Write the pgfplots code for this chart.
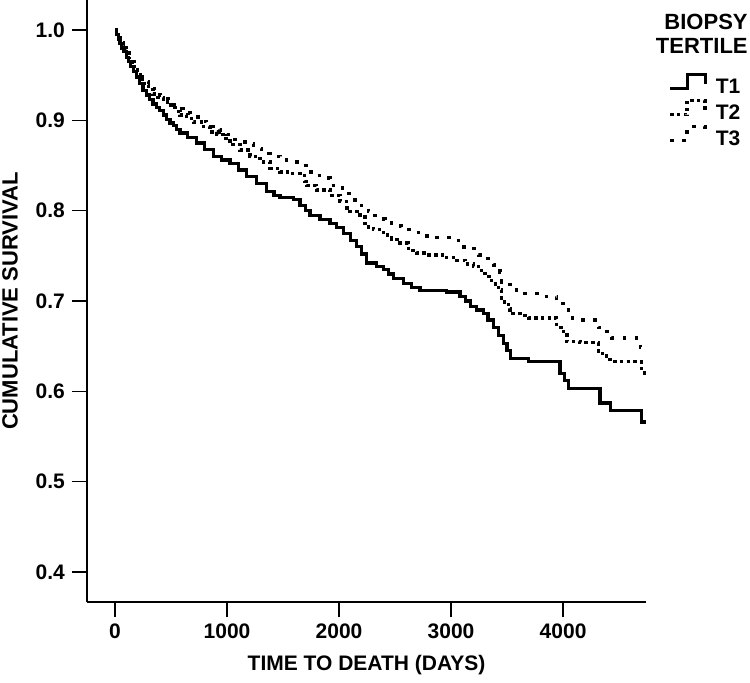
\documentclass[border=0pt]{standalone}
\usepackage{pgfplots}
\usepackage{pgfplotstable}
\pgfplotsset{compat=1.18}
\usepackage{fontspec}
\setmainfont{Liberation Sans}

% T1: time (days), cumulative survival
\pgfplotstableread{
d S
0 1.000
15 0.995
30 0.990
45 0.985
60 0.980
75 0.976
100 0.970
120 0.965
140 0.960
164 0.954
190 0.948
220 0.941
250 0.933
283 0.928
310 0.923
340 0.918
372 0.914
400 0.911
430 0.906
460 0.901
491 0.897
520 0.894
550 0.890
580 0.886
650 0.881
729 0.875
800 0.868
878 0.860
950 0.856
1027 0.852
1100 0.845
1176 0.838
1260 0.830
1354 0.821
1420 0.817
1473 0.815
1592 0.812
1652 0.806
1700 0.800
1741 0.795
1830 0.790
1920 0.786
1980 0.781
2039 0.775
2100 0.767
2158 0.760
2200 0.752
2247 0.742
2336 0.738
2396 0.735
2440 0.730
2485 0.725
2574 0.719
2650 0.715
2723 0.712
2961 0.710
3080 0.705
3130 0.700
3170 0.694
3230 0.690
3289 0.686
3330 0.679
3378 0.671
3420 0.662
3467 0.653
3500 0.645
3527 0.636
3690 0.633
3973 0.620
4010 0.612
4048 0.603
4330 0.587
4420 0.579
4702 0.566
4741 0.566
}\tone

% T2
\pgfplotstableread{
d S
0 1.000
15 0.995
30 0.991
50 0.986
75 0.980
100 0.973
125 0.968
150 0.962
175 0.956
200 0.951
230 0.945
260 0.939
300 0.934
340 0.929
380 0.925
432 0.921
466 0.917
500 0.914
540 0.910
580 0.906
640 0.902
699 0.898
770 0.893
848 0.887
910 0.884
967 0.880
1027 0.873
1116 0.867
1205 0.860
1295 0.854
1384 0.847
1473 0.843
1563 0.841
1652 0.839
1690 0.832
1711 0.828
1800 0.823
1920 0.817
2009 0.810
2068 0.803
2098 0.799
2188 0.793
2232 0.782
2307 0.779
2396 0.773
2470 0.768
2545 0.764
2619 0.756
2693 0.753
2783 0.751
2961 0.748
3051 0.745
3125 0.741
3199 0.738
3244 0.734
3304 0.727
3363 0.719
3423 0.712
3452 0.699
3512 0.692
3527 0.686
3616 0.684
3690 0.681
3943 0.671
4003 0.666
4033 0.655
4152 0.654
4315 0.642
4390 0.639
4420 0.633
4700 0.625
4725 0.620
4741 0.620
}\ttwo

% T3
\pgfplotstableread{
d S
0 1.000
15 0.995
30 0.991
50 0.987
75 0.981
100 0.975
125 0.970
150 0.965
175 0.959
200 0.954
230 0.948
260 0.943
300 0.938
350 0.933
402 0.928
440 0.924
480 0.920
515 0.917
551 0.913
610 0.908
670 0.904
740 0.899
818 0.893
880 0.890
938 0.887
1000 0.884
1071 0.879
1160 0.874
1235 0.869
1310 0.863
1384 0.860
1473 0.856
1563 0.854
1652 0.850
1711 0.843
1786 0.839
1860 0.836
1920 0.828
2009 0.825
2068 0.819
2143 0.812
2200 0.806
2262 0.799
2321 0.791
2411 0.790
2470 0.783
2560 0.779
2649 0.776
2738 0.772
2827 0.770
3036 0.767
3095 0.760
3184 0.758
3244 0.751
3304 0.747
3378 0.740
3438 0.732
3452 0.721
3527 0.716
3586 0.708
3795 0.705
3943 0.697
4003 0.690
4048 0.681
4137 0.679
4315 0.671
4375 0.666
4434 0.659
4690 0.649
4705 0.649
}\tthree

\begin{document}
\begin{tikzpicture}
\begin{axis}[
    at={(0,0)}, anchor=south west,
    scale only axis,
    width=279.5pt, height=301pt,
    xmin=-250, xmax=4740,
    ymin=0.3668, ymax=1.0332,
    clip mode=individual,
    axis x line*=bottom, axis y line*=left,
    axis line style={line width=0.8pt},
    tick align=outside,
    major tick length=7.5pt,
    tick style={line width=0.8pt, black},
    xtick={0,1000,2000,3000,4000},
    ytick={0.4,0.5,0.6,0.7,0.8,0.9,1.0},
    font=\fontsize{10.5}{12}\selectfont\bfseries,
    /pgf/number format/assume math mode=true,
    /pgf/number format/1000 sep={},
    yticklabel style={/pgf/number format/fixed, /pgf/number format/fixed zerofill, /pgf/number format/precision=1},
    xlabel={TIME TO DEATH (DAYS)},
    xlabel style={at={(axis description cs:0.5,-0.1047)}, anchor=center},
    ylabel={CUMULATIVE SURVIVAL},
    ylabel style={at={(axis description cs:-0.1377,0.5)}, anchor=center, font=\fontsize{11}{12}\selectfont\bfseries},
    legend style={at={(axis description cs:1.0287,0.8859)}, anchor=north west,
        draw=none, fill=none, row sep=-1pt, column sep=2.5pt,
        font=\fontsize{10.5}{12}\selectfont\bfseries},
    legend cell align=left,
    legend image code/.code={
        \draw[#1] (0pt,-0.25pt) -- (8.5pt,-0.25pt) -- (8.5pt,6.75pt) -- (17.5pt,6.75pt) -- (17.5pt,2.25pt);
    },
]
\addplot[const plot, black, line width=1.6pt] table[x=d, y=S] {\tone};
\addlegendentry{T1}
\addplot[const plot, black, line width=1.7pt, dash pattern=on 1.75pt off 1.65pt] table[x=d, y=S] {\ttwo};
\addlegendentry{T2}
\addplot[const plot, black, line width=1.7pt, dash pattern=on 1.75pt off 4.25pt] table[x=d, y=S] {\tthree};
\addlegendentry{T3}
\node[anchor=north east, align=right, inner sep=0pt, font=\fontsize{11}{12}\selectfont\bfseries]
    at (axis description cs:1.1825,0.978) {BIOPSY\\TERTILE};
\end{axis}
\pgfresetboundingbox
\path[use as bounding box] (-43.5pt,-40pt) rectangle (331.5pt,301pt);
\end{tikzpicture}
\end{document}
